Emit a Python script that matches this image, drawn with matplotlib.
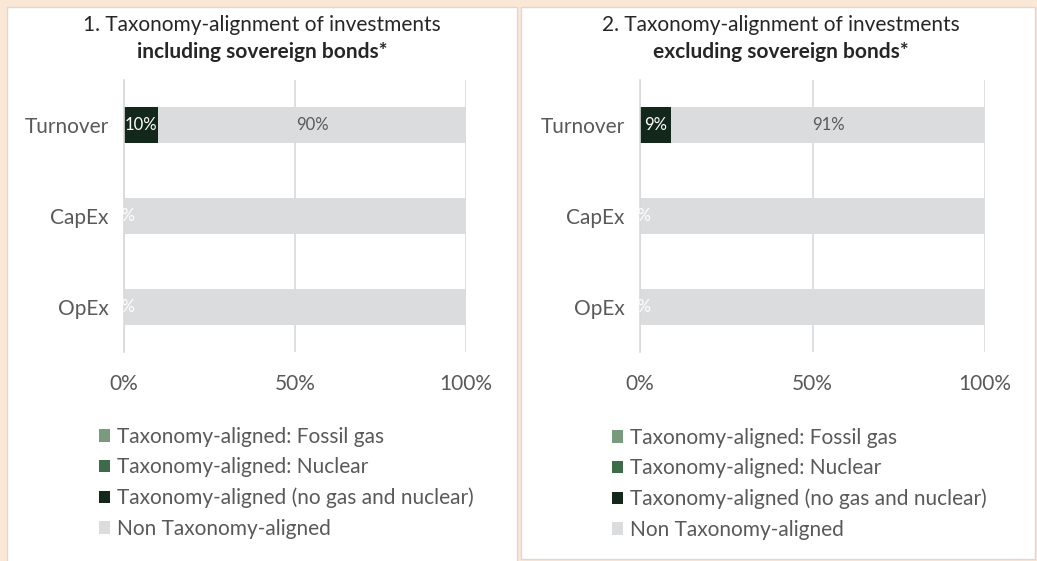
import matplotlib
matplotlib.use("Agg")
import matplotlib.pyplot as plt
from matplotlib.patches import Rectangle

plt.rcParams['font.family'] = ['Lato', 'DejaVu Sans']

categories = ["Turnover", "CapEx", "OpEx"]
series_names = ["Taxonomy-aligned: Fossil gas", "Taxonomy-aligned: Nuclear",
                "Taxonomy-aligned (no gas and nuclear)", "Non Taxonomy-aligned"]
colors = ["#7A9A7E", "#3F6C48", "#13281A", "#DBDCDE"]

# panel 1: including sovereign bonds
p1_fossil = [0, 0, 0]
p1_nuclear = [0, 0, 0]
p1_aligned = [10, 0, 0]
p1_non = [90, 100, 100]
# panel 2: excluding sovereign bonds
p2_fossil = [0, 0, 0]
p2_nuclear = [0, 0, 0]
p2_aligned = [9, 0, 0]
p2_non = [91, 100, 100]

titles = [("1. Taxonomy-alignment of investments", "including sovereign bonds*"),
          ("2. Taxonomy-alignment of investments", "excluding sovereign bonds*")]
xticks = [0, 50, 100]
xticklabels = ["0%", "50%", "100%"]

W, H = 1037, 561
fig = plt.figure(figsize=(W / 100, H / 100), dpi=100)
fig.patch.set_facecolor("#FAE7D5")

def fx(px):
    return px / W

def fy(py):
    return 1 - py / H

# white panels
for (x0, y0, x1, y1) in [(7, 7, 517, 566), (521, 7, 1035, 559)]:
    fig.patches.append(Rectangle((fx(x0), fy(y1)), fx(x1) - fx(x0), fy(y0) - fy(y1),
                                 transform=fig.transFigure, facecolor="white",
                                 edgecolor="#D9D9D9", linewidth=1.0, zorder=-5))

grey = "#595959"
FS = 15
panels = [
    dict(data=[p1_fossil, p1_nuclear, p1_aligned, p1_non], ax=(124, 466),
         title_x=262, legend_x=99, legend_y=427),
    dict(data=[p2_fossil, p2_nuclear, p2_aligned, p2_non], ax=(640, 985),
         title_x=781, legend_x=612, legend_y=428),
]

for i, p in enumerate(panels):
    x0, x1 = p["ax"]
    ax = fig.add_axes([fx(x0), fy(352), fx(x1) - fx(x0), fy(80) - fy(352)])
    ax.set_zorder(2)
    ax.set_facecolor("none")
    ypos = list(range(len(categories)))
    left = [0] * len(categories)
    handles = []
    for s, vals in enumerate(p["data"]):
        h = ax.barh(ypos, vals, left=left, height=0.4, color=colors[s],
                    label=series_names[s], zorder=2)
        handles.append(h)
        for j, v in enumerate(vals):
            cx = left[j] + v / 2
            if s == 2:
                ax.text(cx, ypos[j], f"{v}%", ha="center", va="center",
                        color="white", fontsize=12, zorder=4, clip_on=False)
            elif s == 3 and j == 0:
                ax.text(cx, ypos[j], f"{v}%", ha="center", va="center",
                        color=grey, fontsize=12, zorder=4)
        left = [l + v for l, v in zip(left, vals)]
    ax.set_xlim(0, 100)
    ax.set_ylim(2.5, -0.5)
    ax.set_xticks(xticks)
    ax.set_xticklabels(xticklabels)
    ax.xaxis.grid(True, color="#D9D9D9", linewidth=1.2, zorder=0)
    ax.set_axisbelow(True)
    ax.set_yticks(ypos)
    ax.set_yticklabels(categories)
    ax.tick_params(axis="both", length=0, labelsize=FS, labelcolor=grey)
    ax.tick_params(axis="x", pad=16)
    ax.tick_params(axis="y", pad=11)
    for sp in ["top", "right", "bottom"]:
        ax.spines[sp].set_visible(False)
    ax.spines["left"].set_color("#D9D9D9")
    ax.spines["left"].set_linewidth(1.2)

    fig.text(fx(p["title_x"]), fy(25), titles[i][0], ha="center", va="center",
             fontsize=FS, color="#262626")
    fig.text(fx(p["title_x"]), fy(52), titles[i][1], ha="center", va="center",
             fontsize=FS, color="#262626", fontweight="bold")

    leg = fig.legend(handles=handles, labels=series_names, loc="upper left",
                     bbox_to_anchor=(fx(p["legend_x"]), fy(p["legend_y"])), frameon=False,
                     fontsize=FS, labelcolor=grey, handlelength=0.55, handleheight=0.55,
                     handletextpad=0.3, labelspacing=0.5, borderaxespad=0,
                     borderpad=0)

fig.savefig("out.png", dpi=100, facecolor=fig.get_facecolor())
